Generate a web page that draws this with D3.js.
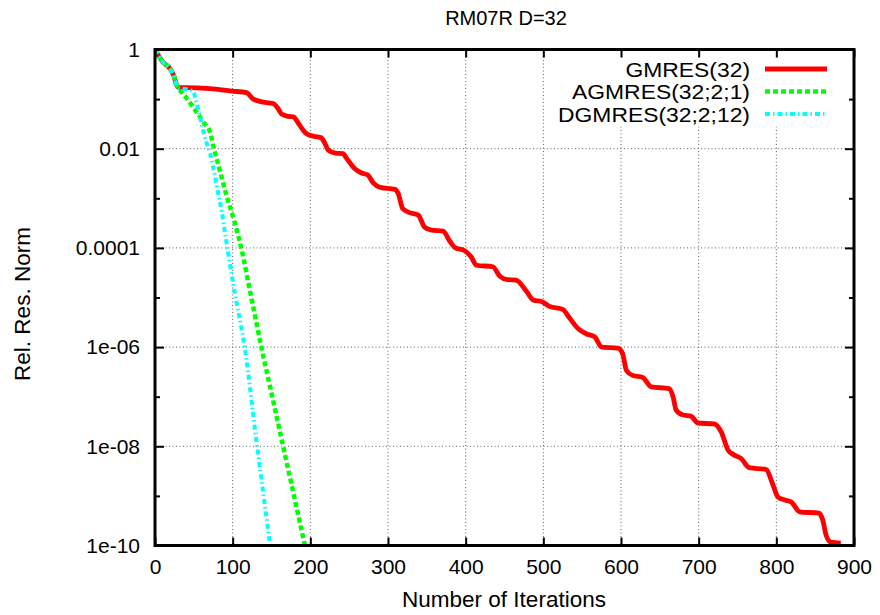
<!DOCTYPE html>
<html>
<head>
<meta charset="utf-8">
<script src="https://cdn.jsdelivr.net/npm/d3@7"></script>
<style>
  html, body { margin: 0; padding: 0; background: #fff; }
  svg { display: block; font-family: "Liberation Sans", Arial, sans-serif; }
</style>
</head>
<body>
<svg id="chart" width="880" height="615"></svg>
<script>
// ---- data ----
const chartTitle = "RM07R D=32";
const xLabel = "Number of Iterations";
const yLabel = "Rel. Res. Norm";
const seriesNames = ["GMRES(32)", "AGMRES(32;2;1)", "DGMRES(32;2;12)"];
const seriesColors = ["#ff0000", "#00ff00", "#00ffff"];

const xTicks = [0, 100, 200, 300, 400, 500, 600, 700, 800, 900];
const yMajorTicks = [1, 1e-2, 1e-4, 1e-6, 1e-8, 1e-10];
const yTickLabels = ["1", "0.01", "0.0001", "1e-06", "1e-08", "1e-10"];
const yMinorTicks = [1e-1, 1e-3, 1e-5, 1e-7, 1e-9];

const gmresIter = [0, 10, 19, 24, 28, 31, 41, 71, 99, 118, 126, 136, 152, 158, 163, 172, 178, 186, 193, 199,
  214, 219, 223, 232, 242, 247, 257, 266, 274, 281, 290, 309, 313, 319, 328, 339, 347, 356, 371, 379,
  386, 399, 407, 414, 435, 444, 454, 465, 478, 487, 499, 508, 525, 534, 545, 555, 566, 575, 596, 602,
  607, 615, 628, 639, 662, 667, 671, 680, 690, 699, 720, 729, 738, 744, 755, 765, 787, 795, 802, 810,
  819, 830, 855, 860, 864, 870, 883];
const gmresRes = [1, 0.562, 0.417, 0.302, 0.191, 0.170, 0.170, 0.162, 0.145, 0.135, 0.102, 0.0891, 0.0813, 0.0661, 0.0501, 0.0447, 0.0437, 0.0302, 0.0214, 0.0186,
  0.0166, 0.0126, 9.33e-3, 8.13e-3, 7.94e-3, 6.31e-3, 3.98e-3, 3.24e-3, 2.95e-3, 2.04e-3, 1.66e-3, 1.51e-3, 1.26e-3, 6.17e-4, 5.13e-4, 4.57e-4, 2.63e-4, 2.29e-4, 2.19e-4, 1.41e-4,
  1.02e-4, 8.71e-5, 6.61e-5, 4.47e-5, 4.17e-5, 2.69e-5, 2.29e-5, 2.24e-5, 1.35e-5, 8.91e-6, 8.13e-6, 6.61e-6, 5.75e-6, 3.80e-6, 2.34e-6, 1.86e-6, 1.62e-6, 1.00e-6, 9.55e-7, 7.41e-7,
  3.39e-7, 2.69e-7, 2.45e-7, 1.58e-7, 1.45e-7, 1.0e-7, 5.37e-8, 4.27e-8, 4.07e-8, 2.95e-8, 2.82e-8, 1.95e-8, 8.32e-9, 6.92e-9, 5.62e-9, 3.72e-9, 3.39e-9, 1.78e-9, 9.55e-10, 8.32e-10,
  7.59e-10, 4.79e-10, 4.47e-10, 3.16e-10, 1.62e-10, 1.17e-10, 1.12e-10];

const agmresIter = [0, 10, 19, 24, 28, 31, 36, 49, 62, 71, 76, 84, 92, 102, 111, 124, 137, 151, 165, 179, 193];
const agmresRes = [1, 0.562, 0.417, 0.302, 0.191, 0.158, 0.129, 0.0692, 0.0347, 0.0214, 0.01, 3.39e-3, 1.15e-3, 3.55e-4, 1e-4, 1e-5, 1e-6, 1e-7, 1e-8, 1e-9, 1e-10];

const dgmresIter = [0, 10, 19, 24, 28, 31, 41, 49, 54, 58, 62, 66, 71, 77, 81, 86, 90, 94, 101, 116, 131, 148];
const dgmresRes = [1, 0.562, 0.417, 0.302, 0.191, 0.165, 0.158, 0.141, 0.0813, 0.0437, 0.0234, 0.0138, 7.94e-3, 2.95e-3, 1.35e-3, 5.37e-4, 2.09e-4, 8.32e-5, 1.78e-5, 8.71e-7, 1.15e-8, 1.10e-10];

// ---- layout ----
const svg = d3.select("#chart");
const L = 155, R = 854, T = 49.5, B = 545.5;
const FONT = 21;

const x = d3.scaleLinear().domain([0, 900]).range([L, R]);
const y = d3.scaleLog().domain([1, 1e-10]).range([T, B]);

// grid
const grid = svg.append("g").attr("stroke", "#606060").attr("stroke-width", 1).attr("stroke-dasharray", "1,2.5");
xTicks.slice(1, -1).forEach(v => {
  grid.append("line").attr("x1", x(v)).attr("x2", x(v)).attr("y1", T).attr("y2", B);
});
yMajorTicks.slice(1, -1).forEach(v => {
  grid.append("line").attr("x1", L).attr("x2", R).attr("y1", y(v)).attr("y2", y(v));
});

// legend background (hides grid)
svg.append("rect").attr("x", 556).attr("y", T + 1).attr("width", R - 557).attr("height", 76).attr("fill", "#fff");

// clip
svg.append("clipPath").attr("id", "clip").append("rect")
  .attr("x", L).attr("y", T).attr("width", R - L).attr("height", B - T);

const line = d3.line().x(d => x(d[0])).y(d => y(d[1])).curve(d3.curveMonotoneX);
const series = [
  { iter: gmresIter, res: gmresRes, dash: null, w: 4.8 },
  { iter: agmresIter, res: agmresRes, dash: "5,3", w: 4.5 },
  { iter: dgmresIter, res: dgmresRes, dash: "5,3,1.5,3", w: 4 }
];
const plot = svg.append("g").attr("clip-path", "url(#clip)");
series.forEach((s, i) => {
  const pts = s.iter.map((v, k) => [v, s.res[k]]);
  const p = plot.append("path").datum(pts)
    .attr("d", line).attr("fill", "none")
    .attr("stroke", seriesColors[i]).attr("stroke-width", s.w)
    .attr("stroke-linejoin", "round");
  if (s.dash) p.attr("stroke-dasharray", s.dash);
});

// axes
const axB = d3.axisBottom(x).tickValues(xTicks).tickSize(-8).tickPadding(14).tickFormat(d3.format("d"));
const axT = d3.axisTop(x).tickValues(xTicks).tickSize(-8).tickFormat("");
const axL = d3.axisLeft(y).tickValues(yMajorTicks).tickSize(-9).tickPadding(15)
  .tickFormat((d, i) => yTickLabels[i]);
const axR = d3.axisRight(y).tickValues(yMajorTicks).tickSize(-9).tickFormat("");
const axLm = d3.axisLeft(y).tickValues(yMinorTicks).tickSize(-5).tickFormat("");
const axRm = d3.axisRight(y).tickValues(yMinorTicks).tickSize(-5).tickFormat("");

function styleAxis(g) {
  g.select(".domain").remove();
  g.selectAll(".tick line").attr("stroke", "#000").attr("stroke-width", 2);
  g.selectAll(".tick text").attr("fill", "#000").style("font-size", FONT + "px")
    .style("font-family", "'Liberation Sans', Arial, sans-serif");
}
svg.append("g").attr("transform", `translate(0,${B})`).call(axB).call(styleAxis);
svg.append("g").attr("transform", `translate(0,${T})`).call(axT).call(styleAxis);
svg.append("g").attr("transform", `translate(${L},0)`).call(axL).call(styleAxis);
svg.append("g").attr("transform", `translate(${R},0)`).call(axR).call(styleAxis);
svg.append("g").attr("transform", `translate(${L},0)`).call(axLm).call(styleAxis);
svg.append("g").attr("transform", `translate(${R},0)`).call(axRm).call(styleAxis);

// border
svg.append("rect").attr("x", L).attr("y", T).attr("width", R - L).attr("height", B - T)
  .attr("fill", "none").attr("stroke", "#000").attr("stroke-width", 3);

// legend
const lg = svg.append("g");
seriesNames.forEach((n, i) => {
  const yy = 69 + i * 22.5;
  lg.append("text").attr("transform", `translate(750,${yy}) scale(1.09,1)`)
    .attr("dy", "0.36em").attr("text-anchor", "end")
    .style("font-size", "21px").text(n);
  const l = lg.append("line").attr("x1", 765).attr("x2", 827).attr("y1", yy).attr("y2", yy)
    .attr("stroke", seriesColors[i]).attr("stroke-width", series[i].w);
  if (series[i].dash) l.attr("stroke-dasharray", series[i].dash);
});

// titles
svg.append("text").attr("x", 506).attr("y", 25).attr("text-anchor", "middle")
  .style("font-size", "20px").text(chartTitle);
svg.append("text").attr("x", 504).attr("y", 607).attr("text-anchor", "middle")
  .style("font-size", "22.5px").text(xLabel);
svg.append("text").attr("transform", "translate(30,304) rotate(-90)").attr("text-anchor", "middle")
  .style("font-size", "22.5px").text(yLabel);
</script>
</body>
</html>
